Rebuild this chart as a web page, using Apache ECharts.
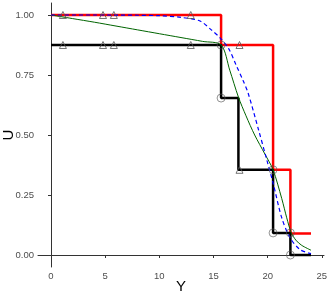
<!DOCTYPE html>
<html><head><meta charset="utf-8">
<script src="https://cdn.jsdelivr.net/npm/echarts@6/dist/echarts.min.js"></script>
<style>html,body{margin:0;padding:0;background:#fff}#c{width:327px;height:294px}</style>
</head><body><div id="c"></div>
<script>
const xTicks = [0, 5, 10, 15, 20, 25];
const yTicks = [0, 0.25, 0.5, 0.75, 1];
const redStep = [[0,1],[15.7,0.875],[20.5,0.355],[22.1,0.09],[24,0.09]];
const blackStep = [[0,0.875],[15.7,0.654],[17.3,0.355],[20.5,0.092],[22.1,0],[24,0]];
const greenCurve = [[0,1],[2,0.985],[4,0.97],[6,0.954],[8,0.938],[10,0.922],[12,0.906],[14,0.89],[15.7,0.875],[16.5,0.77],[17.3,0.658],[18.0,0.58],[18.8,0.50],[19.75,0.42],[20.5,0.355],[21.3,0.235],[21.76,0.155],[22.16,0.095],[22.6,0.062],[23.15,0.04],[24,0.02]];
const blueCurve = [[0,1],[4,1],[8,0.999],[10,0.997],[12,0.99],[13.75,0.975],[14.8,0.938],[15.6,0.905],[16.4,0.86],[17.1,0.79],[17.75,0.725],[18.2,0.674],[19.15,0.523],[19.9,0.40],[20.5,0.30],[21.3,0.155],[22.07,0.072],[23,0.022],[24,0.006]];
const censorPts = [[1.1,1],[4.8,1],[5.8,1],[12.9,1],[17.4,0.875],[1.1,0.875],[4.8,0.875],[5.8,0.875],[12.9,0.875],[17.4,0.355]];
const eventPts = [[15.7,0.875],[15.7,0.654],[20.5,0.355],[20.5,0.092],[22.1,0.092],[22.1,0]];

const chart = echarts.init(document.getElementById('c'));
const lbl = {color:'#4D4D4D', fontSize:9.5, fontFamily:'Liberation Sans'};
chart.setOption({
  animation:false,
  backgroundColor:'#fff',
  grid:{left:38, right:3, top:3, bottom:27, containLabel:false, outerBoundsMode:'none'},
  xAxis:{type:'value', min:-1.2, max:25.2,
    name:'Y', nameLocation:'middle', nameGap:12, nameMoveOverlap:false,
    nameTextStyle:{color:'#000', fontSize:15, fontFamily:'Liberation Sans'},
    axisLine:{show:true, lineStyle:{color:'#333', width:1}},
    axisTick:{show:true, length:3, lineStyle:{color:'#333'}, customValues:xTicks},
    axisLabel:Object.assign({margin:4, customValues:xTicks}, lbl),
    splitLine:{show:false}},
  yAxis:{type:'value', min:-0.05, max:1.05,
    name:'U', nameLocation:'middle', nameGap:22, nameRotate:90, nameMoveOverlap:false,
    nameTextStyle:{color:'#000', fontSize:15, fontFamily:'Liberation Sans'},
    axisLine:{show:true, lineStyle:{color:'#333', width:1}},
    axisTick:{show:true, length:3, lineStyle:{color:'#333'}, customValues:yTicks},
    axisLabel:Object.assign({margin:4, customValues:yTicks, formatter:v=>v.toFixed(2)}, lbl),
    splitLine:{show:false}},
  series:[
    {type:'line', data:redStep, step:'end', showSymbol:false, lineStyle:{color:'#FF0000', width:2.5}, z:2},
    {type:'line', data:blackStep, step:'end', showSymbol:false, lineStyle:{color:'#000', width:2.5}, z:2},
    {type:'line', data:greenCurve, smooth:0.3, showSymbol:false, lineStyle:{color:'#006400', width:1}, z:3},
    {type:'line', data:blueCurve, smooth:0.3, showSymbol:false, lineStyle:{color:'#0000FF', width:1.2, type:[4,3]}, z:4},
    {type:'scatter', data:censorPts, symbol:'triangle', symbolSize:7, itemStyle:{color:'rgba(0,0,0,0)', borderColor:'#555', borderWidth:1}, z:5},
    {type:'scatter', data:eventPts, symbol:'circle', symbolSize:8, itemStyle:{color:'rgba(0,0,0,0)', borderColor:'#555', borderWidth:0.8}, z:5}
  ]
});
</script></body></html>
